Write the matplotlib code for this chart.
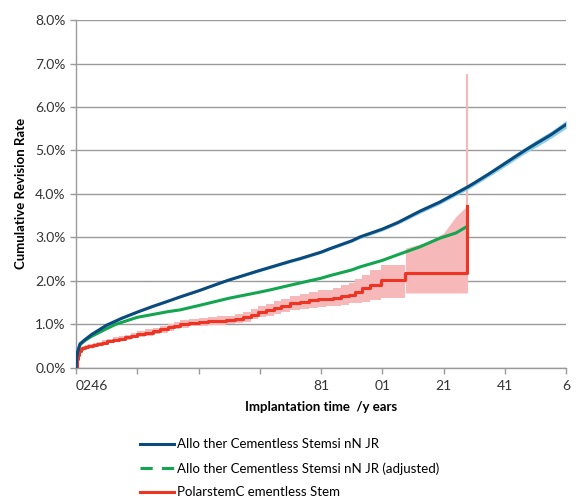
import matplotlib
matplotlib.use("Agg")
import matplotlib.pyplot as plt
from matplotlib.lines import Line2D
import numpy as np

plt.rcParams['font.family'] = ['Lato', 'DejaVu Sans']

# ---- data (years, cumulative revision rate in %) ----
blue_t = [0, 0.02, 0.05, 0.13, 0.3, 0.5, 1.0, 1.5, 2.0, 2.5, 3.0, 3.4, 4.0, 4.75, 5.0, 6.0,
          7.0, 7.31, 8.0, 8.29, 9.0, 9.27, 10.0, 10.5, 11.22, 11.87, 12.0, 12.76, 13.0,
          13.5, 14.0, 14.65, 15.0, 15.5, 16.0]
blue_v = [0, 0.22, 0.36, 0.55, 0.65, 0.76, 0.98, 1.14, 1.28, 1.41, 1.53, 1.63, 1.77, 1.96, 2.02,
          2.24, 2.45, 2.51, 2.66, 2.74, 2.92, 3.01, 3.19, 3.34, 3.6, 3.81, 3.86, 4.15, 4.25,
          4.47, 4.7, 5.0, 5.15, 5.36, 5.6]
blue_ci = [0, 0.02, 0.02, 0.02, 0.02, 0.02, 0.02, 0.02, 0.02, 0.02, 0.02, 0.02, 0.02, 0.02, 0.02,
           0.03, 0.03, 0.03, 0.03, 0.03, 0.03, 0.04, 0.04, 0.04, 0.05, 0.05, 0.05, 0.06, 0.06,
           0.06, 0.07, 0.07, 0.08, 0.08, 0.09]

green_t = [0, 0.02, 0.05, 0.13, 0.3, 0.5, 1.0, 1.3, 2.0, 3.0, 3.39, 4.0, 5.0, 6.0, 6.33, 7.0,
           7.31, 8.0, 8.29, 9.0, 9.27, 10.0, 10.5, 11.22, 11.87, 12.4, 12.76]
green_v = [0, 0.2, 0.33, 0.53, 0.63, 0.72, 0.9, 1.0, 1.16, 1.29, 1.33, 1.43, 1.6, 1.74, 1.79,
           1.9, 1.95, 2.06, 2.12, 2.25, 2.32, 2.47, 2.6, 2.78, 2.98, 3.1, 3.25]

red_t = [0, 0.02, 0.05, 0.1, 0.15, 0.2, 0.3, 0.4, 0.55, 0.7, 0.85, 1.0, 1.2, 1.4, 1.6, 1.8,
         2.0, 2.25, 2.5, 2.75, 3.0, 3.2, 3.4, 3.7, 4.0, 4.3, 4.6, 4.9, 5.2, 5.45, 5.7, 5.95,
         6.2, 6.45, 6.7, 7.0, 7.3, 7.6, 7.9, 8.15, 8.4, 8.65, 8.9, 9.1, 9.35, 9.6, 9.95,
         10.75, 12.76]
red_v = [0, 0.2, 0.3, 0.38, 0.42, 0.45, 0.48, 0.5, 0.52, 0.55, 0.58, 0.61, 0.64, 0.67, 0.7,
         0.74, 0.78, 0.81, 0.85, 0.89, 0.93, 0.97, 1.0, 1.03, 1.05, 1.07, 1.08, 1.1, 1.13,
         1.17, 1.22, 1.28, 1.33, 1.38, 1.43, 1.48, 1.52, 1.55, 1.57, 1.58, 1.6, 1.64, 1.68,
         1.75, 1.83, 1.9, 2.02, 2.19, 3.73]
red_lo = [0, 0.16, 0.25, 0.33, 0.37, 0.4, 0.43, 0.45, 0.47, 0.5, 0.53, 0.56, 0.59, 0.61, 0.64,
          0.68, 0.71, 0.74, 0.78, 0.81, 0.85, 0.89, 0.92, 0.95, 0.97, 0.98, 0.99, 1.01, 1.03,
          1.06, 1.11, 1.16, 1.2, 1.24, 1.28, 1.32, 1.36, 1.38, 1.4, 1.41, 1.43, 1.45, 1.48,
          1.5, 1.52, 1.55, 1.6, 1.68, 1.72]
red_hi = [0, 0.24, 0.35, 0.43, 0.47, 0.5, 0.53, 0.55, 0.57, 0.6, 0.63, 0.66, 0.7, 0.73, 0.76,
          0.8, 0.85, 0.88, 0.92, 0.97, 1.01, 1.05, 1.09, 1.12, 1.14, 1.16, 1.18, 1.2, 1.24,
          1.29, 1.34, 1.41, 1.47, 1.53, 1.58, 1.65, 1.7, 1.74, 1.78, 1.8, 1.84, 1.9, 1.96,
          2.05, 2.14, 2.25, 2.37, 2.75, 3.73]
red_spike_t = [12.76]
red_spike_lo = [1.72]
red_spike_hi = [6.75]

# upper bound of the red band in the last segment
redband_end_t = [10.75, 11.5, 12.0, 12.4, 12.7, 12.76]
redband_end_hi = [2.75, 2.9, 3.1, 3.48, 3.68, 3.73]

x_ticks = [0, 2, 4, 6, 8, 10, 12, 14, 16]
x_ticklabels = ["0246", "", "", "", "81", "01", "21", "41", "6"]
y_ticks = [0, 1, 2, 3, 4, 5, 6, 7, 8]

labels = ["Allo ther Cementless Stemsi nN JR",
          "Allo ther Cementless Stemsi nN JR (adjusted)",
          "PolarstemC ementless Stem"]

BLUE = "#0b4a7c"
GREEN = "#14a550"
RED = "#ee3524"
PINK = "#f6b8b8"
LBLUE = "#8ccfe6"

fig = plt.figure(figsize=(5.76, 5.01), dpi=100)
ax = fig.add_axes([0.132, 0.266, 0.851, 0.694])

# red band (stepwise) - main part then end part
bt = np.array(red_t[:-1])
ax.fill_between(bt, red_lo[:-1], red_hi[:-1], step='post', color=PINK, lw=0, zorder=2)
ax.fill_between(redband_end_t, [1.72] * len(redband_end_t), redband_end_hi,
                color=PINK, lw=0, zorder=2)
ax.vlines(red_spike_t, red_spike_lo, red_spike_hi, color=PINK, lw=1.5, zorder=2)

# blue band
bv = np.array(blue_v)
bc = np.array(blue_ci)
ax.fill_between(blue_t, bv - bc, bv + bc, color=LBLUE, lw=0, zorder=3)

ax.plot(blue_t, blue_v, color=BLUE, lw=2.2, zorder=5)
ax.plot(green_t, green_v, color=GREEN, lw=2.2, zorder=4)
ax.step(red_t, red_v, where='post', color=RED, lw=2.2, zorder=4)
ax.vlines([red_t[-1]], [red_v[-2]], [red_v[-1]], color=RED, lw=2.2, zorder=4)

ax.set_xlim(0, 16)
ax.set_ylim(0, 8)
ax.set_yticks(y_ticks)
ax.set_yticklabels([f"{v:.1f}%" for v in y_ticks], fontsize=10, color="#333333")
ax.set_xticks(x_ticks)
ax.set_xticklabels(x_ticklabels, fontsize=10, color="#333333")
ax.get_xticklabels()[0].set_horizontalalignment('left')
ax.get_xticklabels()[0].set_x(-0.1)

ax.grid(axis='y', color="#9a9a9a", lw=1)
ax.set_axisbelow(True)
for s in ['top', 'right']:
    ax.spines[s].set_visible(False)
for s in ['left', 'bottom']:
    ax.spines[s].set_color("#9a9a9a")
    ax.spines[s].set_linewidth(1)
ax.tick_params(axis='both', direction='out', length=4, color="#9a9a9a", width=1)
ax.tick_params(axis='x', pad=5)

ax.set_xlabel("Implantation time  /y ears", fontsize=9.5, fontweight='bold', labelpad=6)
ax.set_ylabel("Cumulative Revision Rate", fontsize=9.5, fontweight='bold', labelpad=6)

handles = [Line2D([0], [0], color=BLUE, lw=2.2),
           Line2D([0], [0], color=GREEN, lw=2.2, ls=(0, (4, 3))),
           Line2D([0], [0], color=RED, lw=2.2)]
fig.legend(handles, labels, loc='upper left', bbox_to_anchor=(0.243, 0.125),
           frameon=False, fontsize=9.5, handlelength=2.6, handletextpad=0.2,
           labelspacing=0.88, borderaxespad=0, borderpad=0)

fig.savefig("out.png", dpi=100)
